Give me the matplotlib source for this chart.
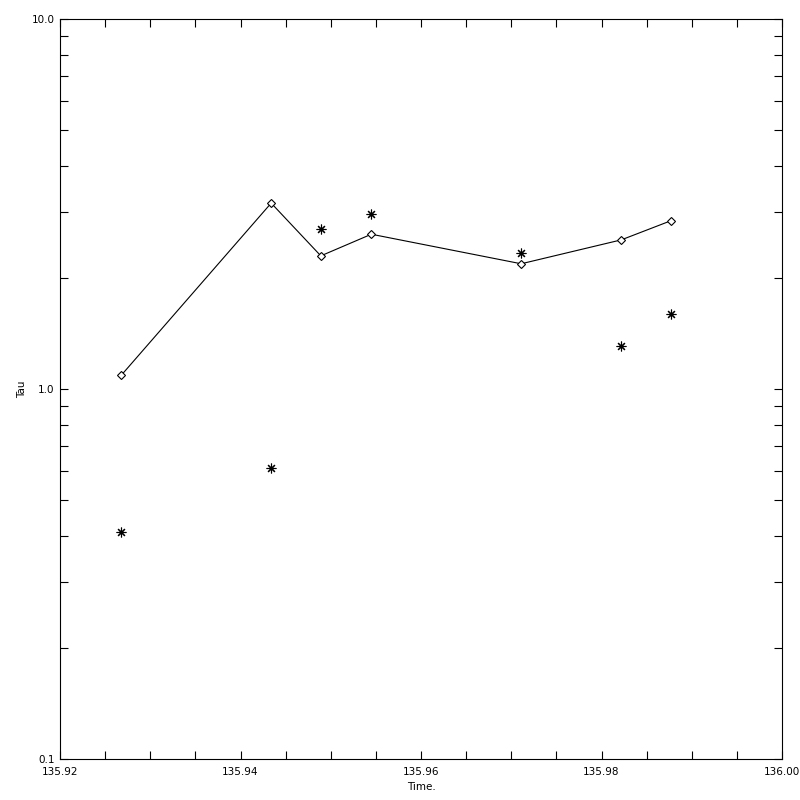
import matplotlib
matplotlib.use("Agg")
import matplotlib.pyplot as plt
from matplotlib.ticker import MultipleLocator, LogLocator, NullFormatter

# line with diamonds
time_line = [135.9268, 135.9434, 135.9489, 135.9545, 135.9711, 135.9822, 135.9877]
tau_line = [1.09, 3.18, 2.29, 2.62, 2.18, 2.53, 2.85]

# asterisks
time_pts = [135.9268, 135.9434, 135.9489, 135.9545, 135.9711, 135.9822, 135.9877]
tau_pts = [0.411, 0.612, 2.71, 2.97, 2.33, 1.31, 1.59]

x_ticks = [135.92, 135.94, 135.96, 135.98, 136.00]
x_labels = ['135.92', '135.94', '135.96', '135.98', '136.00']
y_ticks = [0.1, 1.0, 10.0]
y_labels = ['0.1', '1.0', '10.0']


def main():
    plt.rcParams.update({'font.family': 'DejaVu Sans'})
    fig = plt.figure(figsize=(8, 8), dpi=100)
    ax = fig.add_axes([0.075, 0.05125, 0.9025, 0.925])

    ax.plot(time_line, tau_line, color='black', linewidth=0.8,
            marker='D', markersize=4.5, markerfacecolor='white',
            markeredgecolor='black', markeredgewidth=0.8)
    ax.plot(time_pts, tau_pts, linestyle='none', marker=(8, 2, 0),
            markersize=7, color='black', markeredgewidth=0.8)

    ax.set_xlim(135.92, 136.00)
    ax.set_yscale('log')
    ax.set_ylim(0.1, 10.0)

    ax.xaxis.set_minor_locator(MultipleLocator(0.005))
    ax.set_xticks(x_ticks)
    ax.set_xticklabels(x_labels)
    ax.set_yticks(y_ticks)
    ax.set_yticklabels(y_labels)
    ax.yaxis.set_minor_locator(LogLocator(base=10, subs=range(2, 10)))
    ax.yaxis.set_minor_formatter(NullFormatter())

    ax.tick_params(which='both', direction='in', top=True, right=True,
                   labelsize=7.5, width=0.8, length=6)
    ax.tick_params(axis='x', pad=6)
    ax.tick_params(axis='y', pad=4)
    for s in ax.spines.values():
        s.set_linewidth(0.8)

    ax.set_xlabel('Time.', fontsize=7.5, labelpad=3)
    ax.set_ylabel('Tau', fontsize=7.5, labelpad=3)

    fig.savefig('out.png', dpi=100)
    plt.close(fig)


if __name__ == '__main__':
    main()
